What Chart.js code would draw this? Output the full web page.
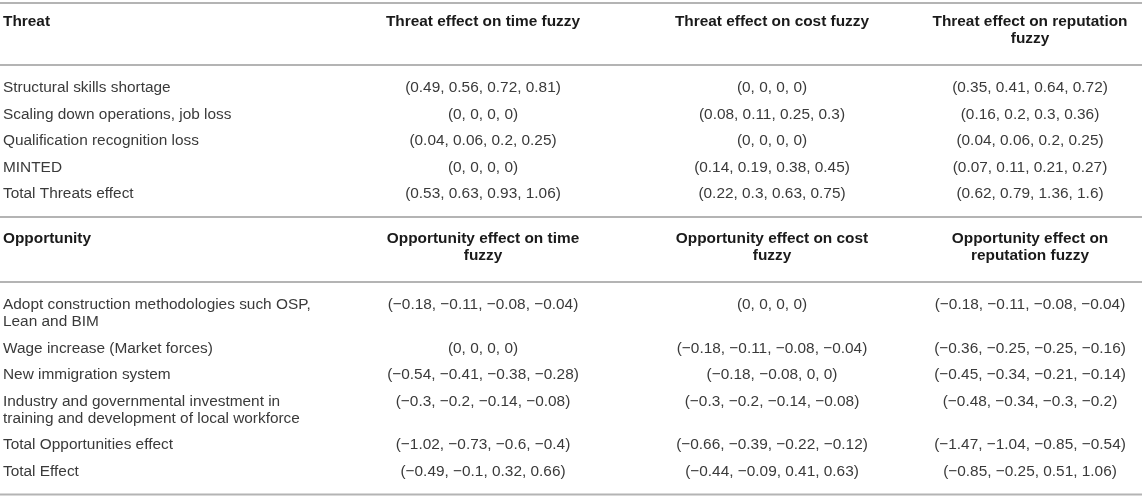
<!DOCTYPE html>
<html>
<head>
<meta charset="utf-8">
<script src="https://cdn.jsdelivr.net/npm/chart.js@4"></script>
<style>
  html, body { margin: 0; padding: 0; background: #fff; }
  #tableau { display: block; }
</style>
</head>
<body>
<canvas id="tableau" width="1142" height="502"></canvas>
<script>
// en-têtes des deux blocs
var threatHeader = ['Threat', 'Threat effect on time fuzzy', 'Threat effect on cost fuzzy', 'Threat effect on reputation\nfuzzy'];
var oppHeader = ['Opportunity', 'Opportunity effect on time\nfuzzy', 'Opportunity effect on cost\nfuzzy', 'Opportunity effect on\nreputation fuzzy'];

// menaces
var threats = ['Structural skills shortage', 'Scaling down operations, job loss', 'Qualification recognition loss', 'MINTED', 'Total Threats effect'];
var threatTime = ['(0.49, 0.56, 0.72, 0.81)', '(0, 0, 0, 0)', '(0.04, 0.06, 0.2, 0.25)', '(0, 0, 0, 0)', '(0.53, 0.63, 0.93, 1.06)'];
var threatCost = ['(0, 0, 0, 0)', '(0.08, 0.11, 0.25, 0.3)', '(0, 0, 0, 0)', '(0.14, 0.19, 0.38, 0.45)', '(0.22, 0.3, 0.63, 0.75)'];
var threatRep = ['(0.35, 0.41, 0.64, 0.72)', '(0.16, 0.2, 0.3, 0.36)', '(0.04, 0.06, 0.2, 0.25)', '(0.07, 0.11, 0.21, 0.27)', '(0.62, 0.79, 1.36, 1.6)'];

// opportunités
var opportunities = ['Adopt construction methodologies such OSP,\nLean and BIM', 'Wage increase (Market forces)', 'New immigration system', 'Industry and governmental investment in\ntraining and development of local workforce', 'Total Opportunities effect', 'Total Effect'];
var oppTime = ['(\u22120.18, \u22120.11, \u22120.08, \u22120.04)', '(0, 0, 0, 0)', '(\u22120.54, \u22120.41, \u22120.38, \u22120.28)', '(\u22120.3, \u22120.2, \u22120.14, \u22120.08)', '(\u22121.02, \u22120.73, \u22120.6, \u22120.4)', '(\u22120.49, \u22120.1, 0.32, 0.66)'];
var oppCost = ['(0, 0, 0, 0)', '(\u22120.18, \u22120.11, \u22120.08, \u22120.04)', '(\u22120.18, \u22120.08, 0, 0)', '(\u22120.3, \u22120.2, \u22120.14, \u22120.08)', '(\u22120.66, \u22120.39, \u22120.22, \u22120.12)', '(\u22120.44, \u22120.09, 0.41, 0.63)'];
var oppRep = ['(\u22120.18, \u22120.11, \u22120.08, \u22120.04)', '(\u22120.36, \u22120.25, \u22120.25, \u22120.16)', '(\u22120.45, \u22120.34, \u22120.21, \u22120.14)', '(\u22120.48, \u22120.34, \u22120.3, \u22120.2)', '(\u22121.47, \u22121.04, \u22120.85, \u22120.54)', '(\u22120.85, \u22120.25, 0.51, 1.06)'];

// mise en page (pixels)
var colX = [3, 483, 772, 1030];
var PITCH = 26.5, LEADING = 17;

function nLines(row) {
    return Math.max.apply(null, row.map(function (t) { return t.split('\n').length; }));
}

// construire les cellules et les filets
var cells = [];
var rules = [];
var y = 3;
rules.push(y);

function addBlock(header, cols, gapTop) {
    y += gapTop;
    header.forEach(function (t, c) { cells.push({ x: colX[c], y: y, t: t, bold: true, col: c }); });
    y += LEADING * (nLines(header) - 1) + 26;
    rules.push(y);
    y += 23;
    for (var r = 0; r < cols[0].length; r++) {
        var row = cols.map(function (col) { return col[r]; });
        row.forEach(function (t, c) { cells.push({ x: colX[c], y: y, t: t, bold: false, col: c }); });
        if (r < cols[0].length - 1) y += PITCH + LEADING * (nLines(row) - 1);
    }
    y += 23;
    rules.push(y);
}
addBlock(threatHeader, [threats, threatTime, threatCost, threatRep], 19);
addBlock(oppHeader, [opportunities, oppTime, oppCost, oppRep], 22);

// dessin du texte et des filets
var tablePlugin = {
    id: 'tablePlugin',
    afterDatasetsDraw: function (chart) {
        var c = chart.ctx;
        var xs = chart.scales.x, ys = chart.scales.y;
        c.save();
        c.strokeStyle = '#b4b4b4';
        c.lineWidth = 2;
        rules.forEach(function (r) {
            var py = ys.getPixelForValue(r);
            c.beginPath();
            c.moveTo(xs.getPixelForValue(0), py);
            c.lineTo(xs.getPixelForValue(1142), py);
            c.stroke();
        });
        var meta = chart.getDatasetMeta(0);
        meta.data.forEach(function (pt, i) {
            var cell = cells[i];
            c.font = (cell.bold ? 'bold ' : '') + '15.4px "Liberation Sans", Arial, sans-serif';
            c.fillStyle = cell.bold ? '#1a1a1a' : '#3a3a3a';
            c.textAlign = cell.col === 0 ? 'left' : 'center';
            c.textBaseline = 'middle';
            cell.t.split('\n').forEach(function (line, k) {
                c.fillText(line, pt.x, pt.y + k * (ys.getPixelForValue(LEADING) - ys.getPixelForValue(0)));
            });
        });
        c.restore();
    }
};

var chart = new Chart(document.getElementById('tableau'), {
    type: 'scatter',
    data: {
        datasets: [{
            data: cells.map(function (cell) { return { x: cell.x, y: cell.y }; }),
            pointRadius: 0,
            pointHoverRadius: 0
        }]
    },
    options: {
        responsive: false,
        animation: false,
        layout: { padding: 0 },
        scales: {
            x: { type: 'linear', min: 0, max: 1142, display: false },
            y: { type: 'linear', min: 0, max: 502, reverse: true, display: false }
        },
        plugins: { legend: { display: false }, tooltip: { enabled: false } }
    },
    plugins: [tablePlugin]
});
</script>
</body>
</html>
